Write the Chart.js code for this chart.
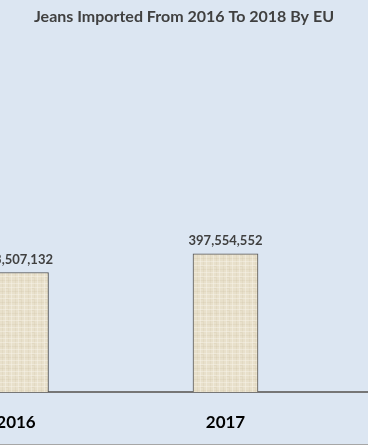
<!DOCTYPE html>
<html>
<head>
<meta charset="utf-8">
<script src="https://cdn.jsdelivr.net/npm/chart.js@4/dist/chart.umd.min.js"></script>
<style>
  html, body { margin: 0; padding: 0; background: #dce6f2; }
  #wrap { width: 368px; height: 444px; border-bottom: 1px solid #a6a6a6; position: relative; }
</style>
</head>
<body>
<div id="wrap"><canvas id="barChart" width="368" height="444"></canvas></div>
<script>
// data (2018 is outside the visible crop)
var years = [2016, 2017];
var imported = [343507132, 397554552];
var tickYears = [2016, 2017];
var chartTitle = "Jeans Imported From 2016 To 2018 By EU";

// linen-like fill for the bars
function linenPattern() {
    var c = document.createElement('canvas');
    c.width = 13; c.height = 11;
    var g = c.getContext('2d');
    g.fillStyle = '#e8e0cb';
    g.fillRect(0, 0, 13, 11);
    g.fillStyle = 'rgba(205,192,162,0.22)';
    g.fillRect(2, 0, 1, 11);
    g.fillRect(8, 0, 1, 11);
    g.fillRect(0, 5, 13, 1);
    g.fillRect(5, 2, 3, 1);
    g.fillStyle = 'rgba(248,244,234,0.45)';
    g.fillRect(5, 0, 1, 11);
    g.fillRect(11, 0, 1, 11);
    g.fillRect(0, 1, 13, 1);
    g.fillRect(0, 8, 13, 1);
    return g.createPattern(c, 'repeat');
}

var valueLabels = {
    id: 'valueLabels',
    afterDatasetsDraw: function(chart) {
        var ctx = chart.ctx;
        var meta = chart.getDatasetMeta(0);
        ctx.save();
        ctx.font = 'bold 13px Lato';
        ctx.fillStyle = '#404040';
        ctx.textAlign = 'center';
        ctx.textBaseline = 'bottom';
        meta.data.forEach(function(bar, i) {
            ctx.fillText(imported[i].toLocaleString('en-US'), bar.x, bar.y - 6);
        });
        ctx.restore();
    }
};

var ctx = document.getElementById('barChart');
var barChart = new Chart(ctx, {
    type: 'bar',
    data: {
        datasets: [{
            label: 'Jeans imported',
            data: years.map(function(y, i) { return { x: y, y: imported[i] }; }),
            backgroundColor: linenPattern(),
            borderColor: '#505050',
            borderWidth: 1,
            borderSkipped: 'bottom',
            barThickness: 65
        }]
    },
    options: {
        responsive: false,
        animation: false,
        layout: { padding: 0 },
        plugins: {
            legend: { display: false },
            tooltip: { enabled: false },
            title: {
                display: true,
                text: chartTitle,
                color: '#404040',
                font: { family: 'Lato', size: 16, weight: 'bold' },
                padding: { top: 7, bottom: 18 }
            }
        },
        scales: {
            x: {
                type: 'linear',
                offset: false,
                min: 2016 - 16 / 209.5,
                max: 2016 + 352 / 209.5,
                grid: { display: false, drawTicks: false },
                border: { display: true, color: '#767676', width: 2 },
                afterBuildTicks: function(scale) {
                    scale.ticks = tickYears.map(function(v) { return { value: v }; });
                },
                afterFit: function(scale) {
                    scale.paddingLeft = 0;
                    scale.paddingRight = 0;
                    scale.height = 52;
                },
                ticks: {
                    padding: 20,
                    maxRotation: 0,
                    color: '#000000',
                    font: { family: 'Lato', size: 17, weight: 'bold' },
                    callback: function(v) { return String(v); }
                }
            },
            y: {
                display: false,
                min: 0,
                max: 1000000000
            }
        }
    },
    plugins: [valueLabels]
});
</script>
</body>
</html>
